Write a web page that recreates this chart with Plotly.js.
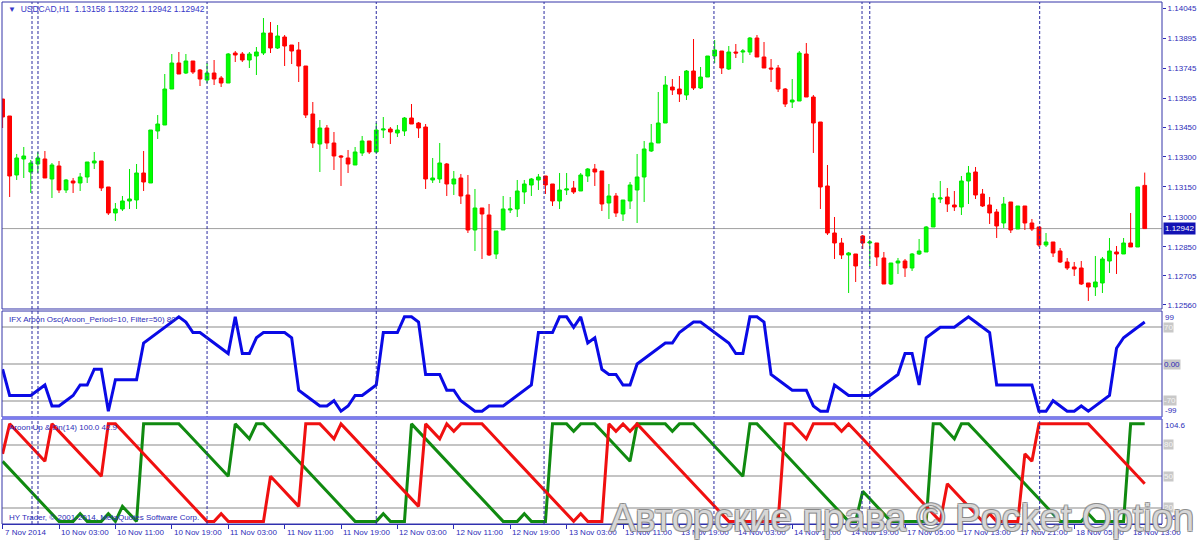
<!DOCTYPE html>
<html><head><meta charset="utf-8">
<script src="https://cdn.plot.ly/plotly-3.0.1.min.js"></script>
<style>html,body{margin:0;padding:0;background:#fff;}#chart{width:1200px;height:540px;}</style>
</head><body><div id="chart"></div>
<script>
const chartTitle = "USDCAD,H1\u00a0\u00a01.13158 1.13222 1.12942 1.12942";
const lastPrice = 1.12942;
const open = [
1.13590,1.13505,1.13210,1.13290,1.13225,1.13265,1.13290,1.13190,1.13255,1.13135,
1.13180,1.13170,1.13200,1.13270,1.13280,1.13150,1.13020,1.13040,1.13080,1.13085,
1.13220,1.13170,1.13430,1.13460,1.13640,1.13770,1.13720,1.13780,1.13735,1.13685,
1.13720,1.13695,1.13670,1.13820,1.13815,1.13785,1.13805,1.13820,1.13920,1.13845,
1.13900,1.13860,1.13835,1.13755,1.13515,1.13365,1.13445,1.13370,1.13305,1.13295,
1.13260,1.13320,1.13380,1.13325,1.13435,1.13440,1.13420,1.13430,1.13495,1.13470,
1.13450,1.13185,1.13190,1.13265,1.13165,1.13195,1.13110,1.12935,1.13045,1.13010,
1.12815,1.12935,1.13035,1.13040,1.13125,1.13160,1.13185,1.13205,1.13165,1.13080,
1.13135,1.13145,1.13130,1.13205,1.13240,1.13230,1.13070,1.13105,1.13015,1.13080,
1.13135,1.13200,1.13330,1.13370,1.13470,1.13650,1.13640,1.13610,1.13730,1.13645,
1.13700,1.13805,1.13830,1.13740,1.13825,1.13825,1.13825,1.13895,1.13800,1.13745,
1.13745,1.13640,1.13575,1.13580,1.13815,1.13600,1.13475,1.13155,1.12920,1.12870,
1.12810,1.12815,1.12905,1.12870,1.12870,1.12795,1.12665,1.12770,1.12780,1.12745,
1.12815,1.12825,1.12950,1.13090,1.13100,1.13060,1.13050,1.13180,1.13225,1.13115,
1.13060,1.13025,1.12970,1.13075,1.12940,1.13055,1.12970,1.12950,1.12860,1.12875,
1.12830,1.12775,1.12750,1.12745,1.12670,1.12650,1.12670,1.12780,1.12825,1.12815,
1.12870,1.12850,1.13158];
const high = [
1.13590,1.13505,1.13315,1.13350,1.13285,1.13325,1.13330,1.13270,1.13280,1.13190,
1.13195,1.13220,1.13275,1.13325,1.13280,1.13150,1.13070,1.13105,1.13240,1.13265,
1.13330,1.13435,1.13510,1.13715,1.13815,1.13825,1.13815,1.13780,1.13740,1.13770,
1.13785,1.13705,1.13820,1.13830,1.13825,1.13825,1.13850,1.13995,1.13975,1.13960,
1.13910,1.13860,1.13875,1.13755,1.13575,1.13485,1.13460,1.13425,1.13310,1.13335,
1.13350,1.13405,1.13380,1.13470,1.13500,1.13450,1.13460,1.13500,1.13565,1.13475,
1.13465,1.13295,1.13370,1.13270,1.13230,1.13215,1.13210,1.13140,1.13045,1.13065,
1.12930,1.13105,1.13100,1.13185,1.13185,1.13195,1.13215,1.13205,1.13165,1.13220,
1.13220,1.13180,1.13220,1.13245,1.13265,1.13230,1.13165,1.13120,1.13085,1.13175,
1.13315,1.13380,1.13465,1.13625,1.13705,1.13690,1.13705,1.13735,1.13890,1.13750,
1.13805,1.13885,1.13830,1.13855,1.13865,1.13840,1.13900,1.13910,1.13875,1.13790,
1.13760,1.13645,1.13690,1.13830,1.13870,1.13610,1.13475,1.13260,1.13000,1.12895,
1.12825,1.12815,1.12910,1.12885,1.12870,1.12825,1.12770,1.12795,1.12790,1.12820,
1.12890,1.12955,1.13120,1.13180,1.13145,1.13130,1.13205,1.13255,1.13250,1.13140,
1.13100,1.13040,1.13100,1.13075,1.13055,1.13055,1.12990,1.12950,1.12920,1.12875,
1.12845,1.12795,1.12775,1.12780,1.12670,1.12805,1.12800,1.12895,1.12855,1.12895,
1.13020,1.13150,1.13222];
const low = [
1.13445,1.13100,1.13185,1.13195,1.13120,1.13220,1.13195,1.13095,1.13120,1.13120,
1.13120,1.13130,1.13170,1.13240,1.13130,1.13010,1.12980,1.13030,1.13040,1.13040,
1.13130,1.13170,1.13390,1.13460,1.13640,1.13715,1.13715,1.13715,1.13655,1.13670,
1.13660,1.13650,1.13670,1.13775,1.13775,1.13745,1.13710,1.13810,1.13820,1.13840,
1.13755,1.13765,1.13675,1.13495,1.13345,1.13225,1.13340,1.13235,1.13155,1.13220,
1.13260,1.13305,1.13315,1.13320,1.13395,1.13365,1.13400,1.13405,1.13465,1.13395,
1.13140,1.13170,1.13170,1.13105,1.13110,1.13065,1.12920,1.12830,1.12790,1.12805,
1.12790,1.12935,1.13020,1.13000,1.13065,1.13105,1.13135,1.13115,1.13055,1.13040,
1.13110,1.13115,1.13130,1.13175,1.13155,1.13030,1.12990,1.13000,1.12980,1.13040,
1.12970,1.13075,1.13325,1.13370,1.13470,1.13610,1.13575,1.13585,1.13635,1.13640,
1.13700,1.13770,1.13715,1.13735,1.13795,1.13770,1.13810,1.13800,1.13745,1.13675,
1.13625,1.13550,1.13545,1.13580,1.13600,1.13320,1.13040,1.12910,1.12790,1.12790,
1.12620,1.12675,1.12840,1.12750,1.12755,1.12665,1.12660,1.12715,1.12700,1.12730,
1.12810,1.12825,1.12950,1.13070,1.13025,1.13030,1.13010,1.13065,1.13090,1.13050,
1.12965,1.12895,1.12945,1.12920,1.12940,1.12935,1.12930,1.12850,1.12850,1.12800,
1.12770,1.12735,1.12705,1.12660,1.12580,1.12605,1.12620,1.12720,1.12715,1.12815,
1.12850,1.12850,1.12942];
const close = [
1.13500,1.13205,1.13295,1.13305,1.13270,1.13295,1.13195,1.13260,1.13135,1.13185,
1.13170,1.13200,1.13275,1.13280,1.13145,1.13020,1.13040,1.13080,1.13090,1.13220,
1.13175,1.13435,1.13465,1.13640,1.13770,1.13715,1.13780,1.13725,1.13690,1.13720,
1.13690,1.13670,1.13815,1.13810,1.13785,1.13815,1.13825,1.13920,1.13845,1.13905,
1.13855,1.13830,1.13755,1.13510,1.13370,1.13445,1.13370,1.13305,1.13300,1.13265,
1.13325,1.13380,1.13325,1.13435,1.13440,1.13425,1.13435,1.13495,1.13465,1.13445,
1.13190,1.13195,1.13270,1.13165,1.13190,1.13105,1.12935,1.13045,1.13015,1.12810,
1.12930,1.13040,1.13040,1.13130,1.13165,1.13190,1.13200,1.13160,1.13080,1.13135,
1.13140,1.13125,1.13210,1.13240,1.13225,1.13065,1.13105,1.13020,1.13085,1.13160,
1.13200,1.13340,1.13370,1.13470,1.13660,1.13635,1.13615,1.13730,1.13645,1.13700,
1.13805,1.13835,1.13745,1.13825,1.13820,1.13830,1.13895,1.13800,1.13745,1.13740,
1.13640,1.13565,1.13585,1.13820,1.13600,1.13470,1.13150,1.12920,1.12870,1.12810,
1.12820,1.12755,1.12870,1.12875,1.12800,1.12665,1.12770,1.12780,1.12745,1.12815,
1.12830,1.12950,1.13095,1.13095,1.13065,1.13050,1.13180,1.13220,1.13110,1.13055,
1.13020,1.12955,1.13065,1.12935,1.13055,1.12970,1.12940,1.12860,1.12875,1.12820,
1.12775,1.12745,1.12740,1.12665,1.12650,1.12675,1.12790,1.12830,1.12815,1.12870,
1.12850,1.13150,1.12942];

// IFX Aroon Osc(10), one value per bar
const oscValues = [
-10,-60,-60,-60,-60,-50,-40,-80,-80,-70,
-60,-40,-40,-10,-10,-90,-30,-30,-30,-30,
40,50,60,70,80,90,80,60,60,50,
40,30,20,90,20,20,50,60,60,60,
60,50,-50,-60,-70,-80,-80,-70,-90,-80,
-60,-60,-50,-40,60,60,60,90,90,80,
-20,-20,-20,-50,-50,-70,-80,-90,-90,-80,
-80,-80,-70,-60,-50,-40,60,60,60,90,
90,70,90,40,50,-10,-20,-20,-40,-40,
0,10,20,30,40,40,60,70,80,80,
70,60,50,40,20,20,90,90,80,-20,
-30,-40,-50,-50,-50,-80,-90,-90,-40,-50,
-60,-60,-60,-60,-50,-40,-30,-20,20,20,
-40,50,60,70,70,70,80,90,80,70,
60,-40,-40,-40,-40,-40,-40,-90,-90,-70,
-80,-90,-90,-80,-90,-80,-70,-60,30,50,
60,70,80];
// Aroon Up (green) and Aroon Down (red), period 14, one value per bar
const aroonUp = [
64.3,57.1,50,42.9,35.7,28.6,21.4,14.3,7.1,7.1,
7.1,14.3,7.1,7.1,7.1,14.3,7.1,21.4,14.3,7.1,
100,100,100,100,100,100,92.9,85.7,78.6,71.4,
64.3,57.1,50,100,92.9,85.7,100,100,92.9,85.7,
78.6,71.4,64.3,57.1,50,42.9,35.7,28.6,21.4,14.3,
7.1,7.1,7.1,7.1,14.3,7.1,7.1,7.1,100,92.9,
85.7,78.6,71.4,64.3,57.1,50,42.9,35.7,28.6,21.4,
14.3,7.1,7.1,7.1,14.3,7.1,7.1,7.1,100,100,
100,92.9,100,100,100,92.9,85.7,78.6,71.4,64.3,
100,100,100,100,100,92.9,100,100,100,92.9,
85.7,78.6,71.4,64.3,57.1,50,100,100,92.9,85.7,
78.6,71.4,64.3,57.1,50,42.9,35.7,28.6,21.4,14.3,
7.1,7.1,35.7,28.6,21.4,14.3,7.1,7.1,7.1,7.1,
7.1,7.1,100,100,92.9,85.7,100,100,92.9,85.7,
78.6,71.4,64.3,57.1,50,42.9,35.7,28.6,21.4,14.3,
7.1,7.1,7.1,7.1,14.3,7.1,7.1,7.1,7.1,7.1,
100,100,100];
const aroonDn = [
71.4,100,92.9,85.7,78.6,71.4,64.3,100,92.9,85.7,
78.6,71.4,64.3,57.1,50,100,100,92.9,85.7,78.6,
71.4,64.3,57.1,50,42.9,35.7,28.6,21.4,14.3,7.1,
7.1,14.3,7.1,7.1,7.1,7.1,7.1,7.1,50,42.9,
35.7,28.6,21.4,100,100,100,92.9,85.7,100,92.9,
85.7,78.6,71.4,64.3,57.1,50,42.9,35.7,28.6,21.4,
100,92.9,85.7,100,92.9,100,100,100,100,92.9,
85.7,78.6,71.4,64.3,57.1,50,42.9,35.7,28.6,21.4,
14.3,7.1,14.3,7.1,7.1,7.1,100,92.9,100,92.9,
100,92.9,85.7,78.6,71.4,64.3,57.1,50,42.9,35.7,
28.6,21.4,14.3,7.1,7.1,7.1,7.1,7.1,7.1,7.1,
7.1,100,100,92.9,85.7,100,100,100,100,92.9,
100,92.9,85.7,78.6,71.4,64.3,57.1,50,42.9,35.7,
28.6,21.4,14.3,7.1,42.9,35.7,28.6,21.4,14.3,7.1,
14.3,7.1,7.1,7.1,7.1,71.4,64.3,100,100,100,
100,100,100,100,100,92.9,85.7,78.6,71.4,64.3,
57.1,50,42.9];

const separators = [4.17,5.02,29,53,76.8,100.9,121.9,123,147.1];
const xTickIdx = [0,8,16,24,32,40,48,56,64,72,80,88,96,104,112,120,128,136,144,152,160];
const xTickText = ["7 Nov 2014","10 Nov 03:00","10 Nov 11:00","10 Nov 19:00","11 Nov 03:00","11 Nov 11:00","11 Nov 19:00","12 Nov 03:00","12 Nov 11:00","12 Nov 19:00","13 Nov 03:00","13 Nov 11:00","13 Nov 19:00","14 Nov 03:00","14 Nov 11:00","14 Nov 19:00","17 Nov 05:00","17 Nov 13:00","17 Nov 21:00","18 Nov 05:00","18 Nov 13:00"];
const priceTicks = [1.14045,1.13895,1.13745,1.13595,1.13450,1.13300,1.13150,1.13000,1.12850,1.12705,1.12560];
const oscLevels = [70,0,-70];
const aroonLevels = [80,50,20];
const oscTitle = "IFX Aroon Osc(Aroon_Period=10, Filter=50) 80";
const aroonTitle = "Aroon Up & Dn(14) 100.0 42.9";
const copyright = "HY Trader, \u00a9 2001-2014, MetaQuotes Software Corp.";
const watermark = "Авторские права \u00a9 Pocket Option";

const BLUE = '#2c2cb8';
const FONT = 'Liberation Sans, Arial, sans-serif';
const bars = open.map((_, i) => i);

const dPrice = [0.4119, 1];
const dOsc = [0.2050, 0.4080];
const dAroon = [0, 0.2011];

const traces = [
  {type:'candlestick', x:bars, open:open, high:high, low:low, close:close, xaxis:'x', yaxis:'y',
   increasing:{line:{color:'#00e600', width:1}, fillcolor:'#00ff00'},
   decreasing:{line:{color:'#ff0000', width:1}, fillcolor:'#ff0000'},
   whiskerwidth:0, hoverinfo:'skip', showlegend:false},
  {type:'scatter', mode:'lines', x:bars, y:oscValues, xaxis:'x', yaxis:'y2',
   line:{color:'#0a0ae6', width:3}, hoverinfo:'skip', showlegend:false},
  {type:'scatter', mode:'lines', x:bars, y:aroonUp, xaxis:'x', yaxis:'y3',
   line:{color:'#108a10', width:3}, hoverinfo:'skip', showlegend:false},
  {type:'scatter', mode:'lines', x:bars, y:aroonDn, xaxis:'x', yaxis:'y3',
   line:{color:'#f01010', width:3}, hoverinfo:'skip', showlegend:false}
];

const shapes = [];
separators.forEach(s => shapes.push({type:'line', xref:'x', yref:'paper', x0:s, x1:s, y0:0, y1:1,
  line:{color:'#2a2aa0', width:1, dash:'3px,2px'}, layer:'above'}));
shapes.push({type:'line', xref:'paper', yref:'y', x0:0, x1:1, y0:lastPrice, y1:lastPrice, line:{color:'#a0a0a0', width:1}, layer:'below'});
[dPrice, dOsc, dAroon].forEach(d => shapes.push({type:'rect', xref:'paper', yref:'paper', x0:0, x1:1, y0:d[0], y1:d[1], line:{color:'#3434a8', width:1}}));
shapes.push({type:'line', xref:'paper', yref:'paper', x0:0, x1:1, y0:0.2031, y1:0.2031, line:{color:'#7c7cf0', width:3}});

const annotations = [];
const txt = (o) => Object.assign({showarrow:false, font:{family:FONT, size:8, color:BLUE}}, o);
annotations.push(txt({xref:'paper', yref:'paper', x:0.0035, y:0.9866, xanchor:'left', yanchor:'middle',
  text:'<span style="font-size:8px">\u25BC</span>\u00a0 ' + chartTitle, font:{family:FONT, size:8.5, color:'#3838c8'}}));
annotations.push(txt({xref:'paper', yref:'paper', x:0.0043, y:0.3927, xanchor:'left', yanchor:'middle', text:oscTitle}));
annotations.push(txt({xref:'paper', yref:'paper', x:0.0043, y:0.1858, xanchor:'left', yanchor:'middle', text:aroonTitle}));
annotations.push(txt({xref:'paper', yref:'paper', x:0.0043, y:0.0134, xanchor:'left', yanchor:'middle', text:copyright}));
xTickIdx.forEach((v, i) => annotations.push(txt({xref:'x', yref:'paper', x:v, y:-0.0172, xanchor:'left', yanchor:'middle', xshift:0, text:xTickText[i]})));
annotations.push(txt({xref:'paper', yref:'y', x:1, y:lastPrice, xanchor:'left', yanchor:'middle', xshift:1,
  text:lastPrice.toFixed(5), bgcolor:'#1212b4', borderpad:1, font:{family:FONT, size:8, color:'#ffffff'}}));
annotations.push(txt({xref:'paper', yref:'y2', x:1, y:100.5, xanchor:'left', yanchor:'top', xshift:1, text:'99'}));
annotations.push(txt({xref:'paper', yref:'y2', x:1, y:-101, xanchor:'left', yanchor:'bottom', xshift:1, text:'-99'}));
oscLevels.forEach(v => annotations.push(txt({xref:'paper', yref:'y2', x:1, y:v, xanchor:'left', yanchor:'middle', xshift:1,
  text: v === 0 ? '0.00' : String(v), bgcolor:'#c8c8c8', borderpad:0,
  font:{family:FONT, size:8, color: v === 0 ? BLUE : '#f4f4f4'}})));
annotations.push(txt({xref:'paper', yref:'y3', x:1, y:104.6, xanchor:'left', yanchor:'top', xshift:1, text:'104.6'}));
annotations.push(txt({xref:'paper', yref:'y3', x:1, y:4.6, xanchor:'left', yanchor:'bottom', xshift:1, text:'4.6'}));
aroonLevels.forEach(v => annotations.push(txt({xref:'paper', yref:'y3', x:1, y:v, xanchor:'left', yanchor:'middle', xshift:1,
  text:String(v), bgcolor:'#c8c8c8', borderpad:0, font:{family:FONT, size:8, color:'#f4f4f4'}})));
annotations.push({xref:'paper', yref:'paper', x:0.776, y:0.012, xanchor:'center', yanchor:'middle', showarrow:false,
  text:watermark, font:{family:FONT, size:38, color:'rgba(255,255,255,0.7)',
  shadow:'-1px -1px 0 #7e7e7e, 1px -1px 0 #7e7e7e, -1px 1px 0 #7e7e7e, 1px 1px 0 #7e7e7e, 0 0 1px #7e7e7e'}});

const layout = {
  width:1200, height:540, margin:{l:2, r:38, t:2, b:16},
  paper_bgcolor:'#ffffff', plot_bgcolor:'#ffffff', showlegend:false, boxgap:0.25,
  font:{family:FONT, size:8, color:BLUE},
  xaxis:{domain:[0,1], range:[-0.085,164.45], anchor:'y3', rangeslider:{visible:false}, showgrid:false, zeroline:false,
    tickvals:xTickIdx, ticktext:xTickIdx.map(() => ''), ticks:'outside', ticklen:4, tickcolor:BLUE, showline:true, linecolor:BLUE, fixedrange:true},
  yaxis:{domain:dPrice, range:[1.12540,1.14075], side:'right', anchor:'x', tickvals:priceTicks, ticktext:priceTicks.map(v => v.toFixed(5)),
    ticks:'outside', ticklen:3, tickcolor:BLUE, tickfont:{family:FONT, size:8, color:BLUE}, showgrid:false, zeroline:false, fixedrange:true},
  yaxis2:{domain:dOsc, range:[-101,101], anchor:'x', tickvals:oscLevels, showticklabels:false, ticks:'', showgrid:true, gridcolor:'#c4c4c4', gridwidth:2, zeroline:false, fixedrange:true},
  yaxis3:{domain:dAroon, range:[4.6,104.6], anchor:'x', tickvals:aroonLevels, showticklabels:false, ticks:'', showgrid:true, gridcolor:'#c4c4c4', gridwidth:2, zeroline:false, fixedrange:true},
  shapes:shapes, annotations:annotations
};
Plotly.newPlot('chart', traces, layout, {staticPlot:true, displayModeBar:false});
</script></body></html>
